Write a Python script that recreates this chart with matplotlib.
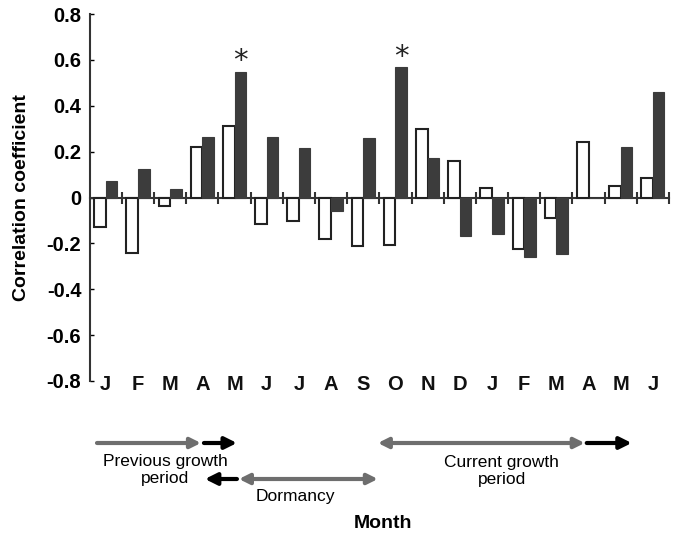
import numpy as np
import matplotlib
matplotlib.use("Agg")
import matplotlib.pyplot as plt
from matplotlib.transforms import blended_transform_factory

plt.rcParams['font.family'] = ['Liberation Sans', 'DejaVu Sans']

# Datos
meses = ["J", "F", "M", "A", "M", "J", "J", "A", "S", "O", "N", "D", "J", "F", "M", "A", "M", "J"]
blancas = [-0.13, -0.24, -0.035, 0.22, 0.313, -0.117, -0.104, -0.183, -0.213, -0.209, 0.299, 0.161,
           0.04, -0.223, -0.09, 0.243, 0.048, 0.084]
oscuras = [0.07, 0.126, 0.036, 0.264, 0.548, 0.262, 0.217, -0.057, 0.258, 0.567, 0.171, -0.17,
           -0.158, -0.261, -0.246, 0.0, 0.222, 0.461]
significativos = [4, 9]  # barras oscuras con asterisco
yticks = [0.8, 0.6, 0.4, 0.2, 0, -0.2, -0.4, -0.6, -0.8]

fig = plt.figure(figsize=(6.81, 5.36), dpi=100)
ax = fig.add_axes([89.7/681, 1-381/536, (669-89.7)/681, (381-14)/536])

x = np.arange(len(meses))
w = 0.36
gris = "#3c3c3c"
ax.bar(x - w/2, blancas, w, color="white", edgecolor="#222222", linewidth=1.5, zorder=3)
ax.bar(x + w/2, oscuras, w, color=gris, edgecolor=gris, linewidth=0.8, zorder=3)

for i in significativos:
    ax.text(x[i] + w/2, oscuras[i] - 0.015, "*", ha="center", va="bottom",
            fontsize=21, family="DejaVu Sans", color="#222222")

ax.set_xlim(-0.5, 17.5)
ax.set_ylim(-0.8, 0.8)
for s in ["top", "right"]:
    ax.spines[s].set_visible(False)
ax.spines["bottom"].set_position(("data", 0))
ax.spines["bottom"].set_color("#333333")
ax.spines["left"].set_color("#333333")
ax.spines["bottom"].set_linewidth(1.5)
ax.spines["left"].set_linewidth(1.5)
ax.set_xticks(np.arange(0.5, 18, 1))
ax.set_xticklabels([])
ax.tick_params(axis="x", direction="inout", length=9, width=1.5, color="#333333")
ax.set_yticks(yticks)
ax.set_yticklabels(["0" if v == 0 else f"{v:.1f}" for v in yticks], fontsize=14.5, fontweight="bold")
ax.tick_params(axis="y", direction="in", length=3, width=1, pad=6)

ax.set_ylabel("Correlation coefficient", fontsize=14, fontweight="bold", labelpad=12)

tr = blended_transform_factory(ax.transData, fig.transFigure)
for i, m in enumerate(meses):
    ax.text(x[i], 1 - 385/536, m, transform=tr, ha="center", va="center",
            fontsize=14.5, fontweight="bold", color="#111111")

def px2x(px):
    return (px - 89.7) / 32.2 - 0.5

def flecha(x0, x1, py, color, estilo):
    ax.annotate("", xy=(px2x(x1), 1 - py/536), xytext=(px2x(x0), 1 - py/536),
                xycoords=tr, textcoords=tr, annotation_clip=False,
                arrowprops=dict(arrowstyle=estilo, color=color, lw=3,
                                shrinkA=0, shrinkB=0))

gris_f = "#6e6e6e"
estilo = "-|>,head_length=0.7,head_width=0.35"
doble = "<|-|>,head_length=0.6,head_width=0.3"
flecha(97, 201, 443, gris_f, doble.replace("<|-|>", "-|>"))
flecha(204, 237, 443, "black", estilo)
flecha(378, 585, 443, gris_f, doble)
flecha(587, 632, 443, "black", estilo)
flecha(237, 205, 479, "black", estilo)
flecha(239, 378, 479, gris_f, doble)

ax.text(px2x(165), 1 - 470/536, "Previous growth\nperiod", transform=tr, ha="center", va="center",
        multialignment="center", fontsize=12.5, linespacing=1.1)
ax.text(px2x(295), 1 - 497/536, "Dormancy", transform=tr, ha="center", va="center", fontsize=12.5)
ax.text(px2x(502), 1 - 471/536, "Current growth\nperiod", transform=tr, ha="center", va="center",
        multialignment="center", fontsize=12.5, linespacing=1.1)
ax.text(px2x(383), 1 - 523/536, "Month", transform=tr, ha="center", va="center",
        fontsize=14, fontweight="bold")

fig.savefig("out.png", dpi=100)
